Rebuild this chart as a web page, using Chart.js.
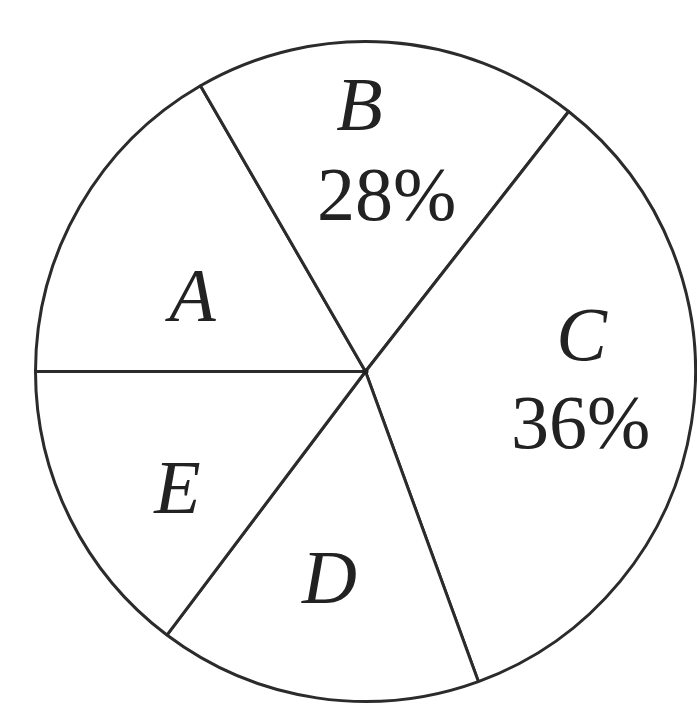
<!DOCTYPE html>
<html>
<head>
<meta charset="utf-8">
<title>Pie</title>
<script src="https://cdn.jsdelivr.net/npm/chart.js@4/dist/chart.umd.min.js"></script>
<style>
html,body{margin:0;padding:0;background:#fff;}
canvas{display:block;}
</style>
</head>
<body>
<canvas id="pieChart" width="697" height="704"></canvas>
<script>
/* =========================
   data
========================= */

// slice names, clockwise starting at 9 o'clock
let sliceNames = ["A","B","C","D","E"];

// angular size of each slice as drawn (degrees)
let sliceSizes = [60,68,122,57,53];

// percentages written under some names
let slicePercents = ["","28%","36%","",""];


/* =========================
   label plugin
========================= */

// where each label sits, as a fraction of the radius from the centre
let labelSpots = [
  {name:[-0.524,-0.230]},
  {name:[-0.018,-0.809], pct:[0.064,-0.536]},
  {name:[0.655,-0.112], pct:[0.652,0.155]},
  {name:[-0.109,0.627]},
  {name:[-0.570,0.352]}
];

const sliceLabels = {
  id:"sliceLabels",
  afterDatasetsDraw(chart){
    let ctx = chart.ctx;
    let arcs = chart.getDatasetMeta(0).data;
    let size = 76;
    ctx.save();
    ctx.fillStyle = "#222";
    ctx.textAlign = "center";
    ctx.textBaseline = "alphabetic";
    arcs.forEach((arc,i)=>{
      let r = arc.outerRadius;
      let spot = labelSpots[i];
      ctx.font = "italic " + size + "px 'Liberation Serif','Times New Roman',serif";
      ctx.fillText(sliceNames[i], arc.x + spot.name[0]*r, arc.y + spot.name[1]*r + size*0.33);
      if(slicePercents[i] && spot.pct){
        ctx.font = size + "px 'Liberation Serif','Times New Roman',serif";
        ctx.fillText(slicePercents[i], arc.x + spot.pct[0]*r, arc.y + spot.pct[1]*r + size*0.34);
      }
    });
    // small dot at the centre
    let a = arcs[0];
    ctx.beginPath();
    ctx.arc(a.x, a.y, 3, 0, Math.PI*2);
    ctx.fill();
    ctx.restore();
  }
};


/* =========================
   chart
========================= */

new Chart(document.getElementById("pieChart"),{
  type:"pie",
  data:{
    labels:sliceNames,
    datasets:[{
      data:sliceSizes,
      backgroundColor:"#ffffff",
      borderColor:"#2b2b2b",
      borderWidth:3
    }]
  },
  options:{
    responsive:false,
    animation:false,
    events:[],
    rotation:270,
    radius:330,
    layout:{padding:{left:34,right:0,top:40,bottom:1}},
    plugins:{
      legend:{display:false},
      tooltip:{enabled:false}
    }
  },
  plugins:[sliceLabels]
});
</script>
</body>
</html>
